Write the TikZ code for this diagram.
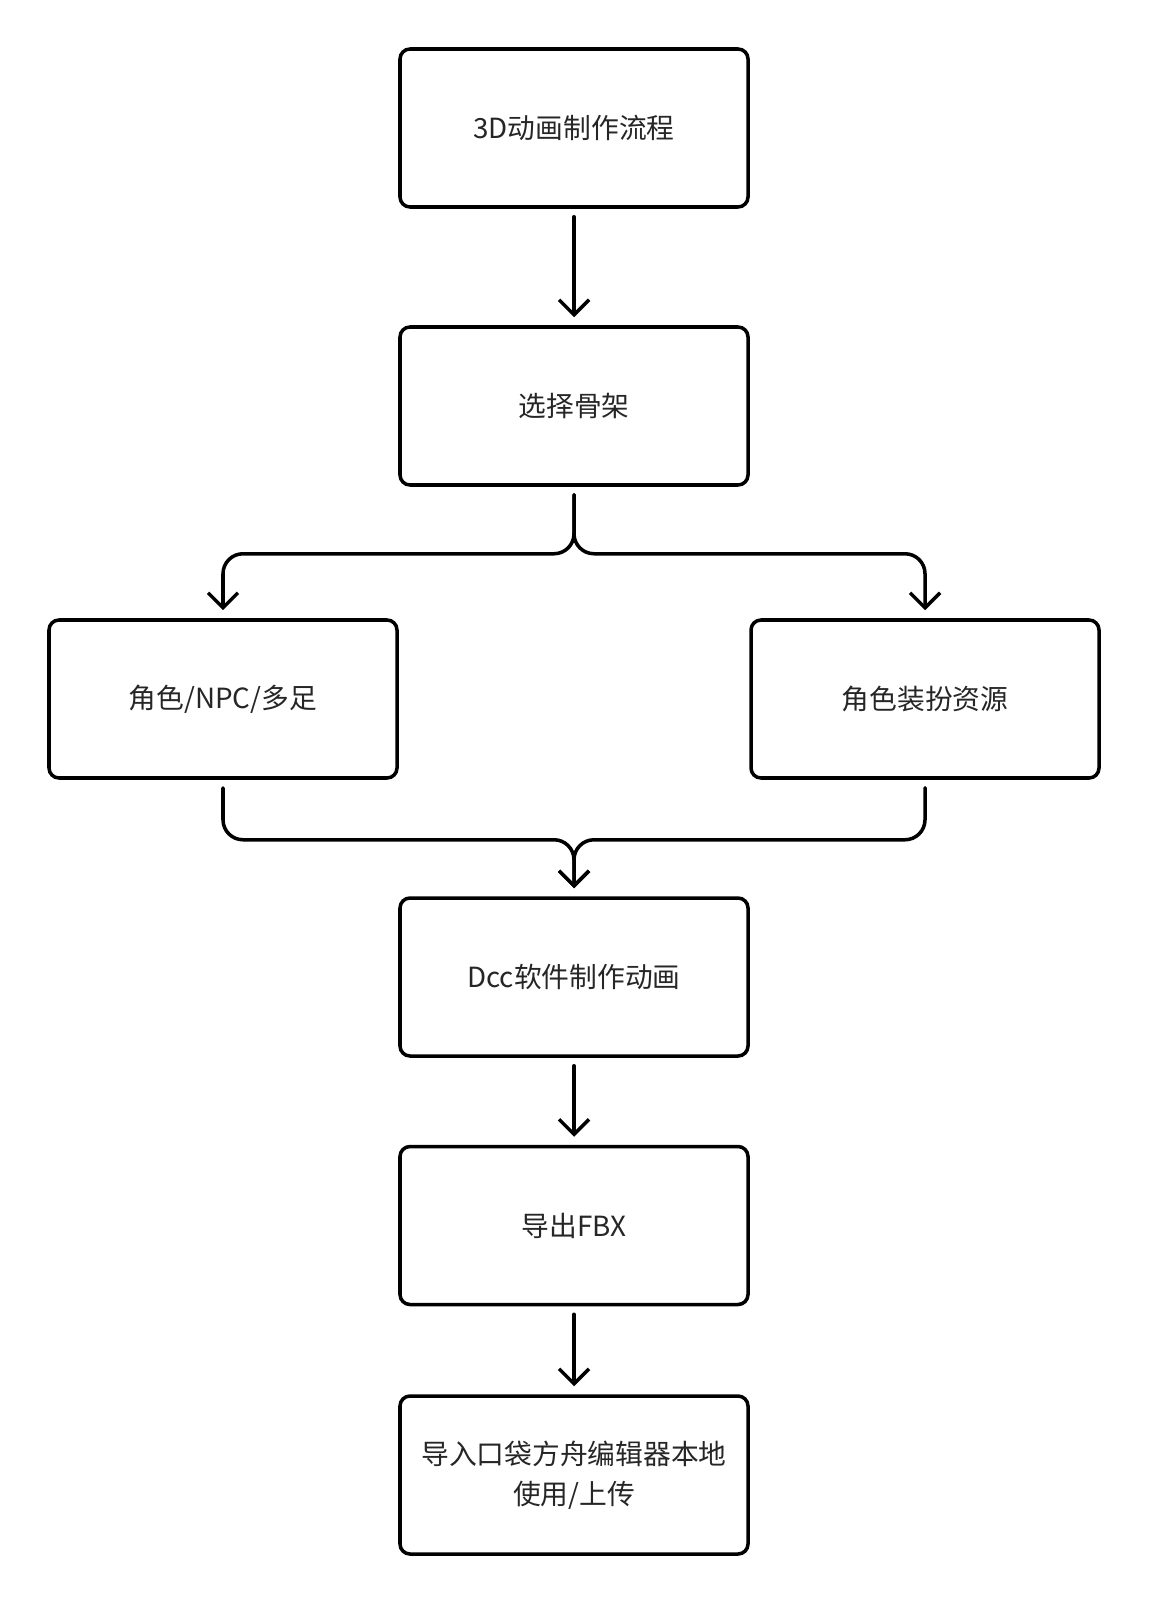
\documentclass[tikz,border=0pt]{standalone}
\usepackage{fontspec}
\setmainfont{Noto Sans CJK SC}
\usetikzlibrary{arrows.meta,positioning,calc}

\begin{document}
\begin{tikzpicture}[
  every node/.style={font=\fontsize{15.8}{22.7}\selectfont, text=black!85},
  stepbox/.style={draw=black, line width=2pt, rounded corners=0.2cm, minimum width=6.96cm, minimum height=3.16cm, align=center},
  arrow/.style={-{Straight Barb[length=0.3cm,width=0.6cm,line width=2pt]}, line width=2pt, line cap=round, line join=round, shorten <=0.16cm, shorten >=0.16cm},
  branch/.style={arrow, rounded corners=0.4cm}
]
\useasboundingbox (0,0) rectangle (23,-32.08);

\node[stepbox] (flow) at (11.48,-2.56) {3D动画制作流程};
\node[stepbox] (skeleton) at (11.48,-8.12) {选择骨架};
\node[stepbox] (role) at (4.46,-13.98) {角色/NPC/多足};
\node[stepbox] (dress) at (18.50,-13.98) {角色装扮资源};
\node[stepbox] (dcc) at (11.48,-19.54) {Dcc软件制作动画};
\node[stepbox] (fbx) at (11.48,-24.51) {导出FBX};
\node[stepbox] (import) at (11.48,-29.50) {导入口袋方舟编辑器本地\\使用/上传};

% straight steps
\draw[arrow] (flow) -- (skeleton);
\draw[arrow] (dcc) -- (fbx);
\draw[arrow] (fbx) -- (import);

% split into two branches
\draw[branch] (skeleton.south) -- ++(0,-1.34) -| (role.north);
\draw[branch] (skeleton.south) -- ++(0,-1.34) -| (dress.north);

% merge again
\draw[branch] (role.south) -- ++(0,-1.20) -| (dcc.north);
\draw[branch] (dress.south) -- ++(0,-1.20) -| (dcc.north);
\end{tikzpicture}
\end{document}
